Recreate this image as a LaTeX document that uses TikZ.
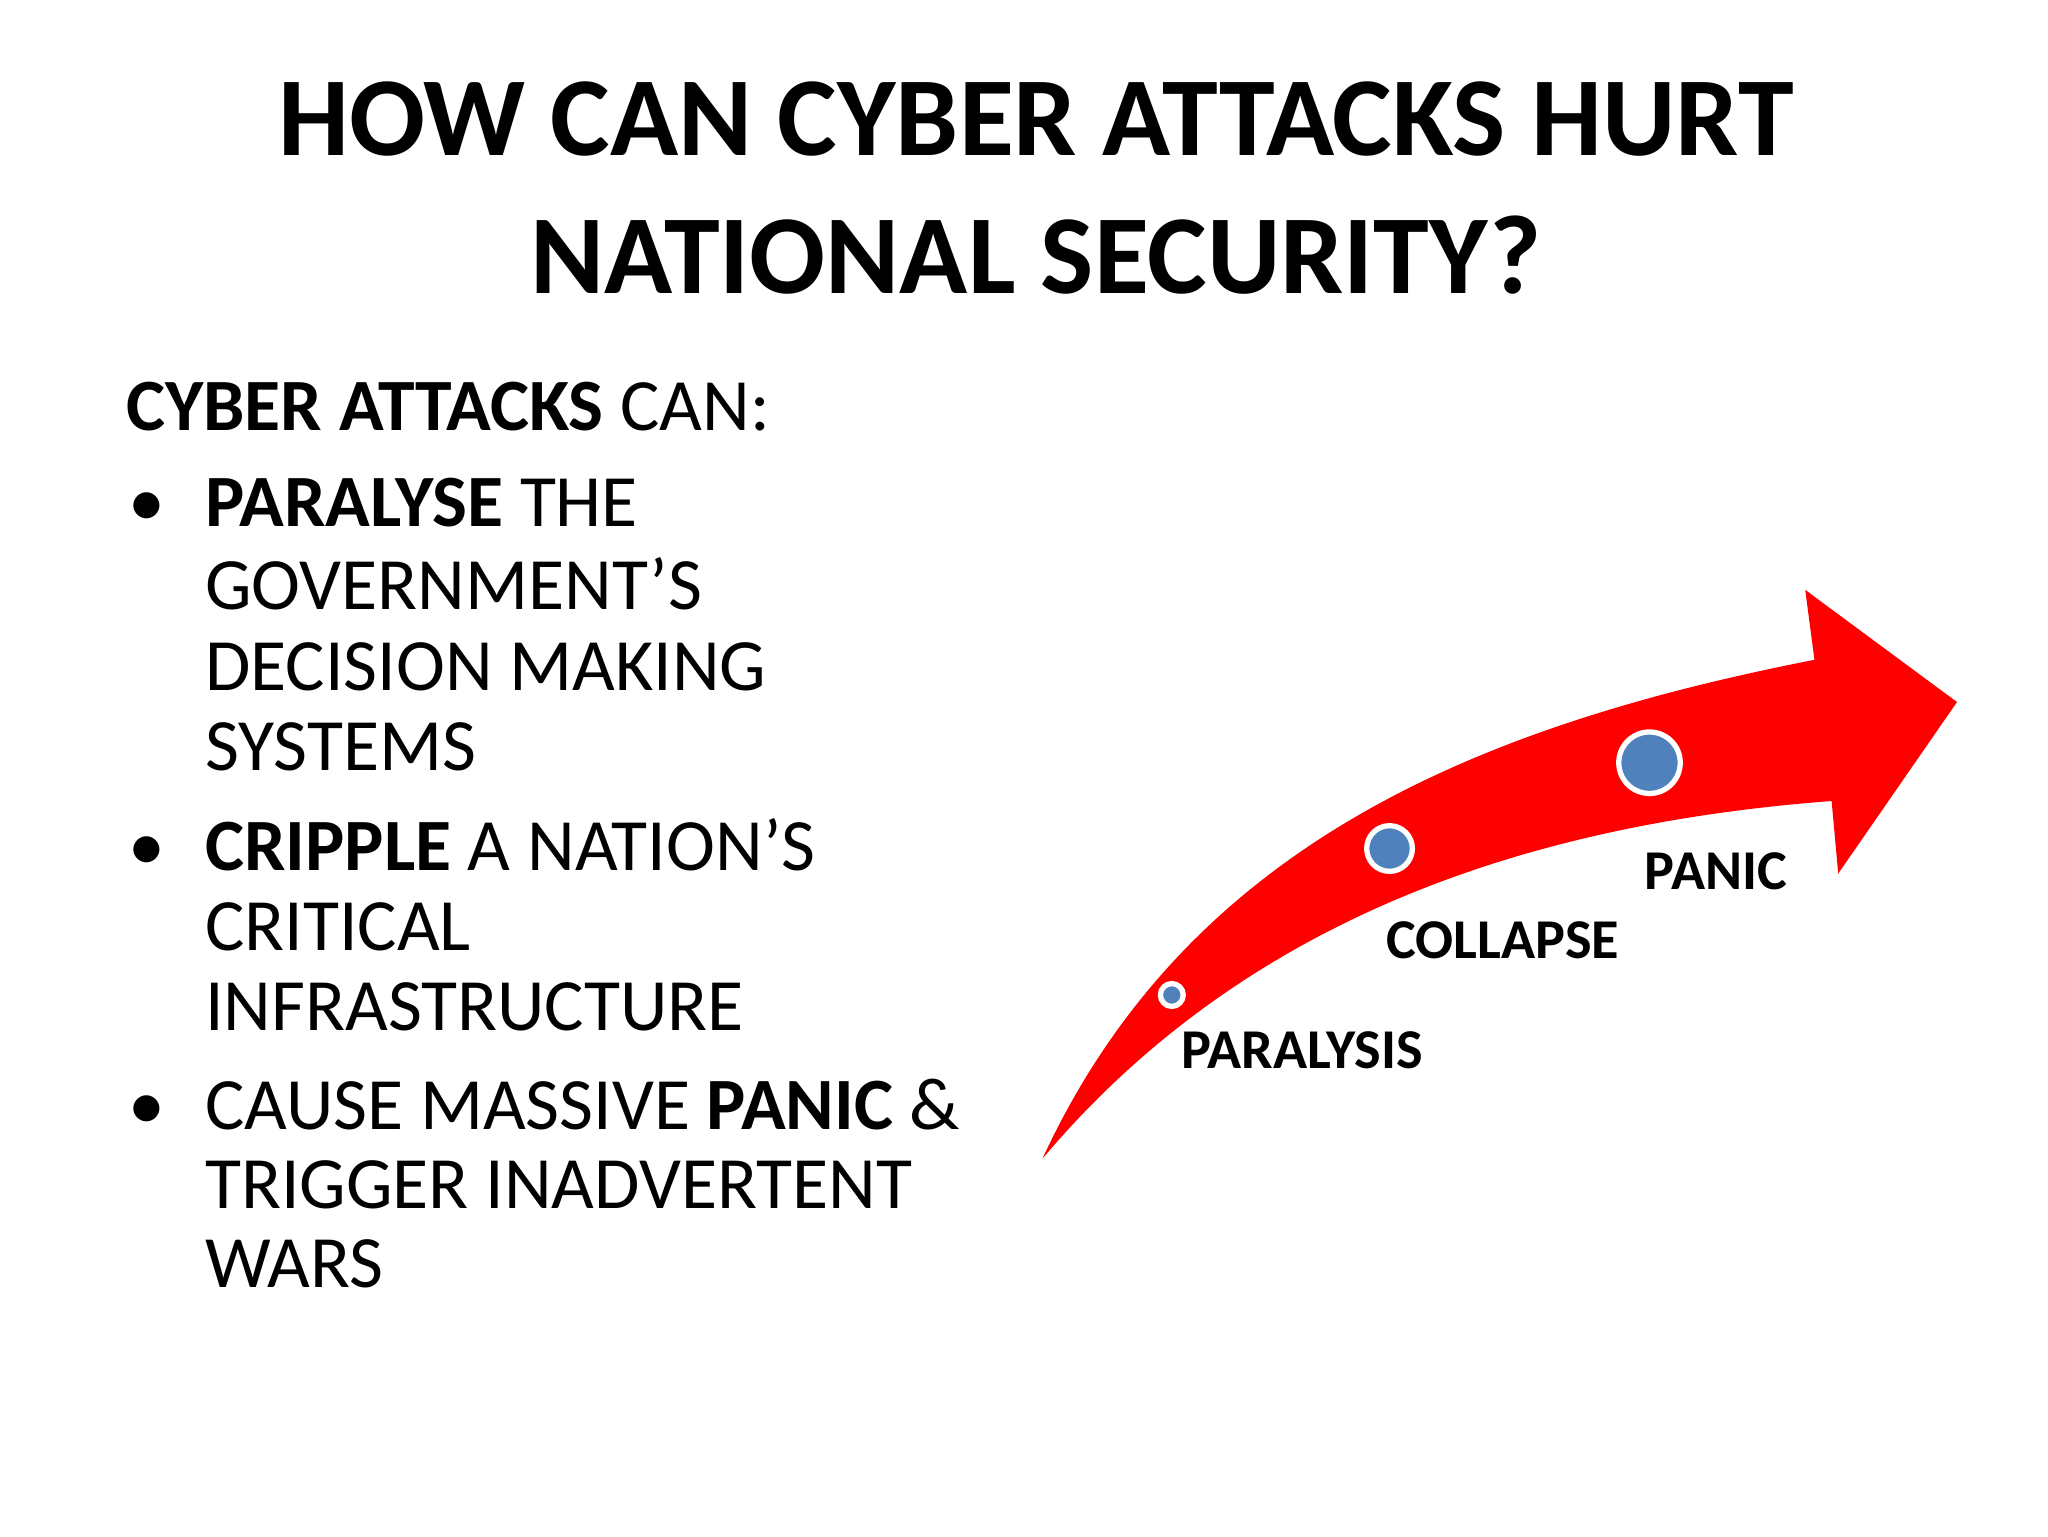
\documentclass[tikz,border=0pt]{standalone}
\usepackage{fontspec}
\setmainfont{Carlito}
\begin{document}
\begin{tikzpicture}[x=0.013196cm,y=-0.013196cm,
  body/.style={anchor=base west,inner sep=0,font=\fontsize{21}{25}\selectfont},
  lab/.style={anchor=base west,inner sep=0,font=\fontsize{16}{19}\selectfont\bfseries},
  dot/.style={circle,fill=dotblue,draw=white,line width=1.5pt,inner sep=0}]
\definecolor{dotblue}{HTML}{4F81BD}
\useasboundingbox (0,0) rectangle (1552,1164);
\fill[white] (0,0) rectangle (1552,1164);
\node[font=\fontsize{32}{38}\selectfont\bfseries,inner sep=0] (t1) at (785,90) {HOW CAN CYBER ATTACKS HURT};
\node[font=\fontsize{32}{38}\selectfont\bfseries,inner sep=0] (t2) at (785,193) {NATIONAL SECURITY?};
\node[body] (h) at (95,326) {\textbf{CYBER ATTACKS} CAN:};
\node[body] (b1) at (97,399) {\textbullet};
\node[body] (l1) at (155,399) {\textbf{PARALYSE} THE};
\node[body] (l2) at (155,462) {GOVERNMENT’S};
\node[body] (l3) at (155,523) {DECISION MAKING};
\node[body] (l4) at (155,584) {SYSTEMS};
\node[body] (b2) at (97,660) {\textbullet};
\node[body] (l5) at (155,660) {\textbf{CRIPPLE} A NATION’S};
\node[body] (l6) at (155,720) {CRITICAL};
\node[body] (l7) at (155,781) {INFRASTRUCTURE};
\node[body] (b3) at (97,856) {\textbullet};
\node[body] (l8) at (155,856) {CAUSE MASSIVE \textbf{PANIC} \&};
\node[body] (l9) at (155,916) {TRIGGER INADVERTENT};
\node[body] (l10) at (155,976) {WARS};
\fill[red] (790,878) .. controls (900,640) and (1120,550) .. (1375,500)
  -- (1368,447) -- (1483,532) -- (1393,662) -- (1388,607)
  .. controls (1150,625) and (940,700) .. (790,878) -- cycle;
\node[dot,minimum size=6.5pt] (d1) at (888,754) {};
\node[dot,minimum size=13pt] (d2) at (1053,643) {};
\node[dot,minimum size=17.5pt] (d3) at (1250,578) {};
\node[lab] (p1) at (895,810) {PARALYSIS};
\node[lab] (p2) at (1050,726) {COLLAPSE};
\node[lab] (p3) at (1246,674) {PANIC};
\end{tikzpicture}
\end{document}
